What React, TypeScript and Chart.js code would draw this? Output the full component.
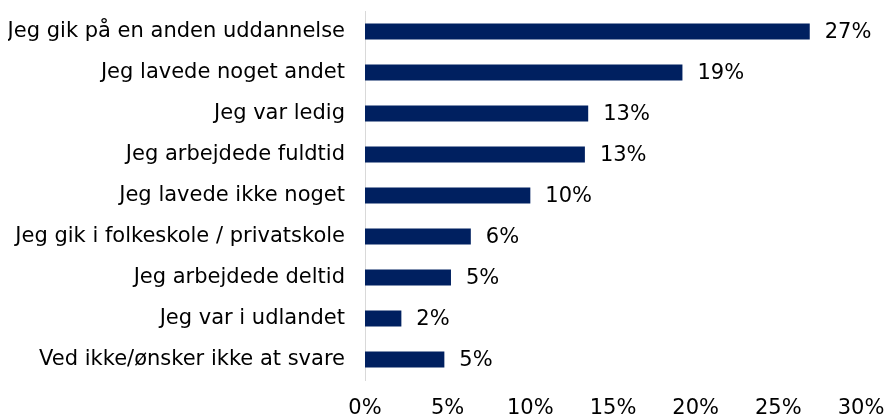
import React, { useEffect, useRef } from "react";
import { Chart, registerables } from "chart.js";

Chart.register(...registerables);

const categories = [
  "Jeg gik på en anden uddannelse",
  "Jeg lavede noget andet",
  "Jeg var ledig",
  "Jeg arbejdede fuldtid",
  "Jeg lavede ikke noget",
  "Jeg gik i folkeskole / privatskole",
  "Jeg arbejdede deltid",
  "Jeg var i udlandet",
  "Ved ikke/ønsker ikke at svare",
];
const values = [26.9, 19.2, 13.5, 13.3, 10.0, 6.4, 5.2, 2.2, 4.8];
const valueLabels = ["27%", "19%", "13%", "13%", "10%", "6%", "5%", "2%", "5%"];
const xTicks = [0, 5, 10, 15, 20, 25, 30];

const FONT = "'DejaVu Sans', Verdana, sans-serif";
const FONT_SIZE = 21;

const labelPlugin = {
  id: "barLabels",
  afterDatasetsDraw(chart: any) {
    const ctx = chart.ctx;
    const meta = chart.getDatasetMeta(0);
    ctx.save();
    ctx.font = `${FONT_SIZE}px ${FONT}`;
    ctx.fillStyle = "#000000";
    ctx.textAlign = "left";
    ctx.textBaseline = "middle";
    meta.data.forEach((el: any, i: number) => {
      ctx.fillText(valueLabels[i], el.x + 15, el.y + 1);
    });
    ctx.restore();
  },
};

export default function App() {
  const ref = useRef<HTMLCanvasElement>(null);
  useEffect(() => {
    if (!ref.current) return;
    const chart = new Chart(ref.current, {
      type: "bar",
      data: {
        labels: categories,
        datasets: [
          {
            data: values,
            backgroundColor: "#002060",
            barPercentage: 0.39,
            categoryPercentage: 1,
          },
        ],
      },
      options: {
        indexAxis: "y",
        responsive: false,
        animation: false,
        layout: { padding: { top: 3, right: 24, left: 0, bottom: 0 } },
        plugins: { legend: { display: false }, tooltip: { enabled: false } },
        scales: {
          x: {
            min: 0,
            max: 30,
            afterBuildTicks(scale: any) {
              scale.ticks = xTicks.map((v) => ({ value: v }));
            },
            afterFit(scale: any) {
              scale.height = 38;
              scale.paddingLeft = 0;
              scale.paddingRight = 0;
            },
            grid: { display: false, drawTicks: false },
            border: { display: false },
            ticks: {
              padding: 16,
              maxRotation: 0,
              color: "#000000",
              font: { family: FONT, size: FONT_SIZE },
              callback: (v: any) => v + "%",
            },
          },
          y: {
            grid: { display: false, drawTicks: false },
            border: { display: true, color: "#d9d9d9", width: 1 },
            afterFit(scale: any) {
              scale.width = 357;
              scale.paddingTop = 0;
              scale.paddingBottom = 0;
            },
            ticks: {
              padding: 20,
              color: "#000000",
              font: { family: FONT, size: FONT_SIZE },
            },
          },
        },
      },
      plugins: [labelPlugin],
    });
    return () => chart.destroy();
  }, []);
  return (
    <div style={{ width: 877, height: 410 }}>
      <canvas ref={ref} width={877} height={410} />
    </div>
  );
}
